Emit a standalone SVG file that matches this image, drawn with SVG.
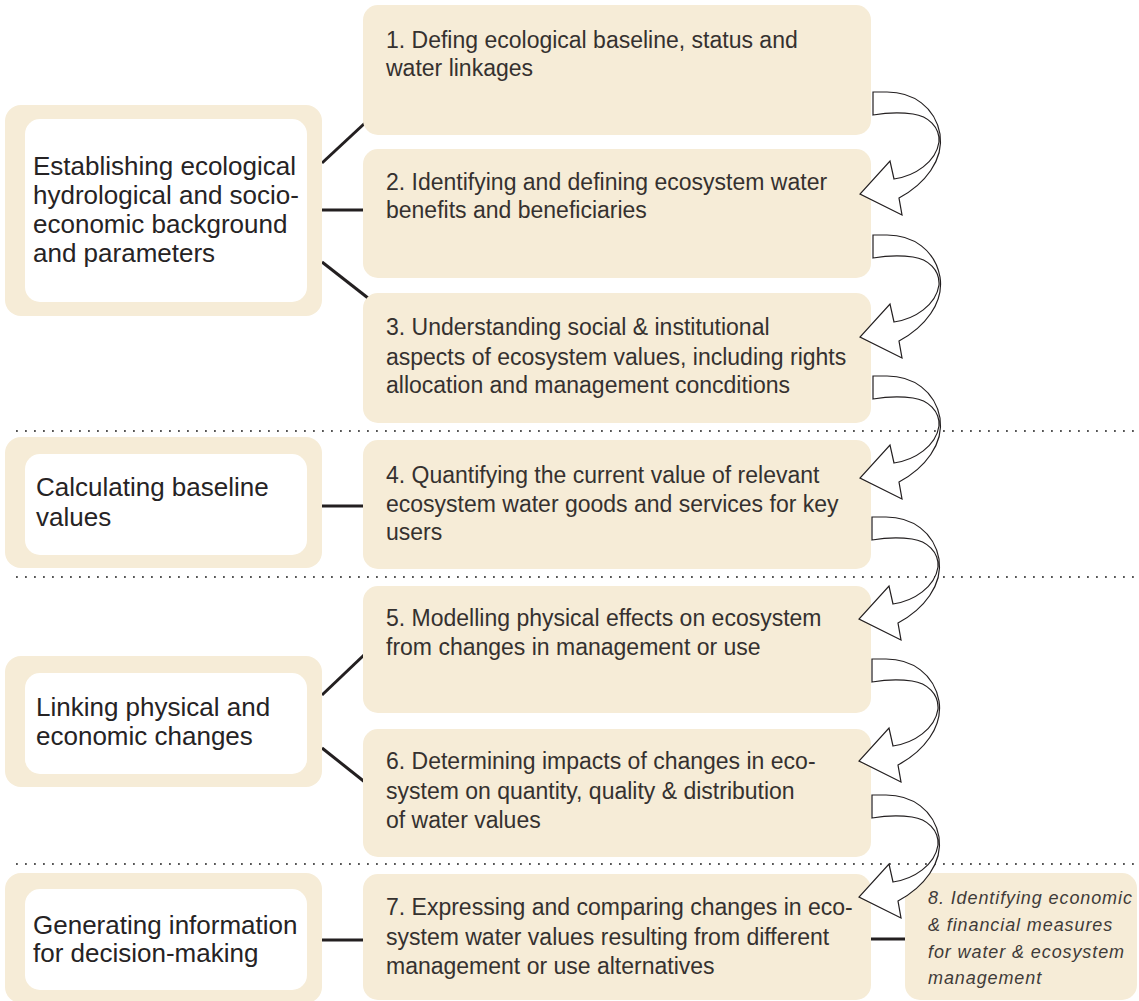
<svg xmlns="http://www.w3.org/2000/svg" width="1139" height="1001" viewBox="0 0 1139 1001">
<style>
.bg{fill:#ffffff}
.beige{fill:#f6ecd7}
.inner{fill:#ffffff}
.lt{font-family:"Liberation Sans",Arial,sans-serif;font-size:26px;fill:#262324}
.rt{font-family:"Liberation Sans",Arial,sans-serif;font-size:23px;fill:#35312f}
.it{font-family:"Liberation Sans",Arial,sans-serif;font-size:18px;font-style:italic;letter-spacing:0.9px;fill:#3f3b39}
.con{stroke:#231f20;stroke-width:3;fill:none}
.dot{stroke:#555;stroke-width:1.8;stroke-dasharray:1.8 7.2;fill:none}
.arr{fill:#ffffff;stroke:#231f20;stroke-width:1.2;stroke-linejoin:miter}
</style>
<defs>
<path id="curl" class="arr" d="M0,0 L14,0 C40,0 62,15 67,42 C71,68 52,92 26,106 L29,123 L-13,102 L17,69 L21,87 C42,84 63,70 66,50 C67,35 55,24 40,22 C25,20 12,21 0,23 Z"/>
</defs>
<rect class="bg" x="0" y="0" width="1139" height="1001"/>

<g id="separators">
<line class="dot" x1="16" y1="431" x2="1136" y2="431"/>
<line class="dot" x1="16" y1="577" x2="1136" y2="577"/>
<line class="dot" x1="16" y1="864" x2="1136" y2="864"/>
</g>

<g id="connectors">
<line class="con" x1="322" y1="163" x2="365" y2="123"/>
<line class="con" x1="322" y1="210" x2="364" y2="210"/>
<line class="con" x1="322" y1="262" x2="368" y2="298"/>
<line class="con" x1="322" y1="506" x2="364" y2="506"/>
<line class="con" x1="322" y1="695" x2="364" y2="655"/>
<line class="con" x1="322" y1="748" x2="366" y2="783"/>
<line class="con" x1="322" y1="940" x2="364" y2="940"/>
<line class="con" x1="870" y1="939" x2="906" y2="939"/>
</g>

<g id="stageA">
<rect class="beige" x="5" y="105" width="317" height="211" rx="16"/>
<rect class="inner" x="25" y="119" width="282" height="183" rx="15"/>
<text class="lt" x="33" y="175">Establishing ecological</text>
<text class="lt" x="33" y="204">hydrological and socio-</text>
<text class="lt" x="33" y="233">economic background</text>
<text class="lt" x="33" y="262">and parameters</text>
</g>
<g id="stageB">
<rect class="beige" x="5" y="437" width="317" height="131" rx="16"/>
<rect class="inner" x="25" y="454" width="282" height="101" rx="15"/>
<text class="lt" x="36" y="496">Calculating baseline</text>
<text class="lt" x="36" y="526">values</text>
</g>
<g id="stageC">
<rect class="beige" x="5" y="656" width="317" height="131" rx="16"/>
<rect class="inner" x="25" y="673" width="282" height="101" rx="15"/>
<text class="lt" x="36" y="716">Linking physical and</text>
<text class="lt" x="36" y="745">economic changes</text>
</g>
<g id="stageD">
<rect class="beige" x="5" y="873" width="317" height="130" rx="16"/>
<rect class="inner" x="25" y="889" width="282" height="101" rx="15"/>
<text class="lt" x="33" y="934">Generating information</text>
<text class="lt" x="33" y="962">for decision-making</text>
</g>

<g id="step1">
<rect class="beige" x="363" y="5" width="508" height="130" rx="15"/>
<text class="rt" x="386" y="48">1. Defing ecological baseline, status and</text>
<text class="rt" x="386" y="76">water linkages</text>
</g>
<g id="step2">
<rect class="beige" x="363" y="149" width="508" height="129" rx="15"/>
<text class="rt" x="386" y="190">2. Identifying and defining ecosystem water</text>
<text class="rt" x="386" y="218">benefits and beneficiaries</text>
</g>
<g id="step3">
<rect class="beige" x="363" y="293" width="508" height="130" rx="15"/>
<text class="rt" x="386" y="335">3. Understanding social &amp; institutional</text>
<text class="rt" x="386" y="365">aspects of ecosystem values, including rights</text>
<text class="rt" x="386" y="393">allocation and management concditions</text>
</g>
<g id="step4">
<rect class="beige" x="363" y="440" width="508" height="129" rx="15"/>
<text class="rt" x="386" y="483">4. Quantifying the current value of relevant</text>
<text class="rt" x="386" y="512">ecosystem water goods and services for key</text>
<text class="rt" x="386" y="540">users</text>
</g>
<g id="step5">
<rect class="beige" x="363" y="586" width="508" height="127" rx="15"/>
<text class="rt" x="386" y="626">5. Modelling physical effects on ecosystem</text>
<text class="rt" x="386" y="655">from changes in management or use</text>
</g>
<g id="step6">
<rect class="beige" x="363" y="729" width="508" height="128" rx="15"/>
<text class="rt" x="386" y="769">6. Determining impacts of changes in eco-</text>
<text class="rt" x="386" y="799">system on quantity, quality &amp; distribution</text>
<text class="rt" x="386" y="828">of water values</text>
</g>
<g id="step7">
<rect class="beige" x="363" y="874" width="508" height="126" rx="15"/>
<text class="rt" x="386" y="915">7. Expressing and comparing changes in eco-</text>
<text class="rt" x="386" y="945">system water values resulting from different</text>
<text class="rt" x="386" y="974">management or use alternatives</text>
</g>
<g id="step8">
<rect class="beige" x="905" y="873" width="232" height="127" rx="15"/>
<text class="it" x="928" y="904">8. Identifying economic</text>
<text class="it" x="928" y="931">&amp; financial measures</text>
<text class="it" x="928" y="958">for water &amp; ecosystem</text>
<text class="it" x="928" y="984">management</text>
</g>

<g id="flow-arrows">
<use href="#curl" transform="translate(873,92)"/>
<use href="#curl" transform="translate(873,235)"/>
<use href="#curl" transform="translate(873,376)"/>
<use href="#curl" transform="translate(872,517)"/>
<use href="#curl" transform="translate(872,659)"/>
<use href="#curl" transform="translate(872,795)"/>
</g>
</svg>
